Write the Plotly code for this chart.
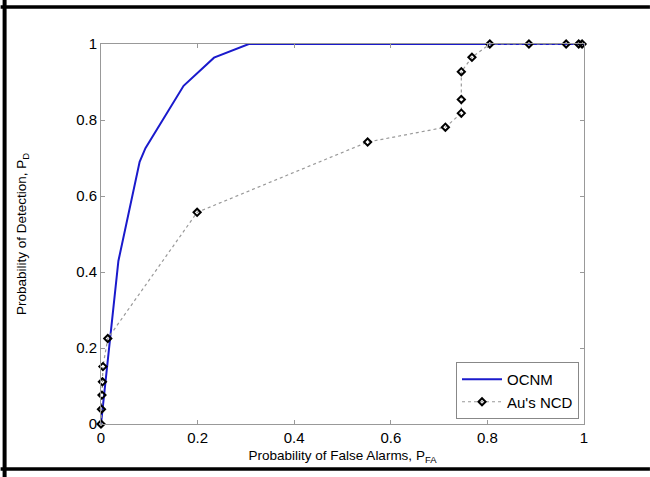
import plotly.graph_objects as go

ocnm_pfa = [0.0, 0.036, 0.08, 0.092, 0.171, 0.234, 0.306, 0.5, 0.8, 1.0]
ocnm_pd = [0.0, 0.429, 0.69, 0.726, 0.890, 0.964, 1.0, 1.0, 1.0, 1.0]

au_pfa = [0.0, 0.001, 0.002, 0.003, 0.004, 0.014, 0.199, 0.552, 0.713, 0.746, 0.746, 0.746,
          0.768, 0.805, 0.886, 0.963, 0.989, 0.996]
au_pd = [0.0, 0.039, 0.076, 0.111, 0.151, 0.225, 0.557, 0.742, 0.781, 0.818, 0.854, 0.927,
         0.965, 1.0, 1.0, 1.0, 1.0, 1.0]

tick_vals = [0, 0.2, 0.4, 0.6, 0.8, 1]
tick_text = ["0", "0.2", "0.4", "0.6", "0.8", "1"]

W, H = 650, 477
ML, MR, MT, MB = 100.5, 66, 44, 53
pw = W - ML - MR
ph = H - MT - MB

def px(x):
    return (x - ML) / pw

def py(y):
    return (H - MB - y) / ph

fig = go.Figure()
fig.add_trace(go.Scatter(
    x=ocnm_pfa, y=ocnm_pd, mode="lines", name="OCNM",
    line=dict(color="#1a1acc", width=2), cliponaxis=False))
fig.add_trace(go.Scatter(
    x=au_pfa, y=au_pd, mode="lines+markers", name="Au's NCD",
    line=dict(color="#999999", width=1.2, dash="dot"),
    marker=dict(symbol="diamond-open", size=5.5, color="black", line=dict(width=2, color="black")),
    cliponaxis=False))

axis_common = dict(
    range=[0, 1], tickvals=tick_vals, ticktext=tick_text,
    ticks="inside", ticklen=4, tickcolor="#999999", tickwidth=1,
    showline=True, linecolor="#999999", linewidth=1, mirror="allticks",
    showgrid=False, zeroline=False,
    tickfont=dict(family="Liberation Sans, Arial", size=15, color="black"),
)

fig.update_xaxes(**axis_common,
                 title=dict(text="Probability of False Alarms, P<sub>FA</sub>",
                            font=dict(family="Liberation Sans, Arial", size=13.5, color="black"),
                            standoff=5))
fig.update_yaxes(**axis_common,
                 title=dict(text="Probability of Detection, P<sub>D</sub>",
                            font=dict(family="Liberation Sans, Arial", size=13.5, color="black"),
                            standoff=46))

shapes = [
    dict(type="line", xref="paper", yref="paper", x0=px(0), x1=px(W), y0=py(7), y1=py(7),
         line=dict(color="black", width=3.5)),
    dict(type="line", xref="paper", yref="paper", x0=px(0), x1=px(W), y0=py(469), y1=py(469),
         line=dict(color="black", width=3.5)),
    dict(type="line", xref="paper", yref="paper", x0=px(4), x1=px(4), y0=py(0), y1=py(H),
         line=dict(color="black", width=4)),
]

fig.update_layout(
    width=W, height=H,
    margin=dict(l=ML, r=MR, t=MT, b=MB),
    paper_bgcolor="white", plot_bgcolor="white",
    shapes=shapes,
    showlegend=True,
    legend=dict(x=px(579), y=py(419), xanchor="right", yanchor="bottom",
                bgcolor="white", bordercolor="#888888", borderwidth=1,
                font=dict(family="Liberation Sans, Arial", size=15, color="black"),
                tracegroupgap=0, itemwidth=40),
    font=dict(family="Liberation Sans, Arial"),
)

fig.write_html("out.html",
               config={"displayModeBar": False},
               post_script="document.body.style.margin='0';document.body.style.overflow='hidden';")
